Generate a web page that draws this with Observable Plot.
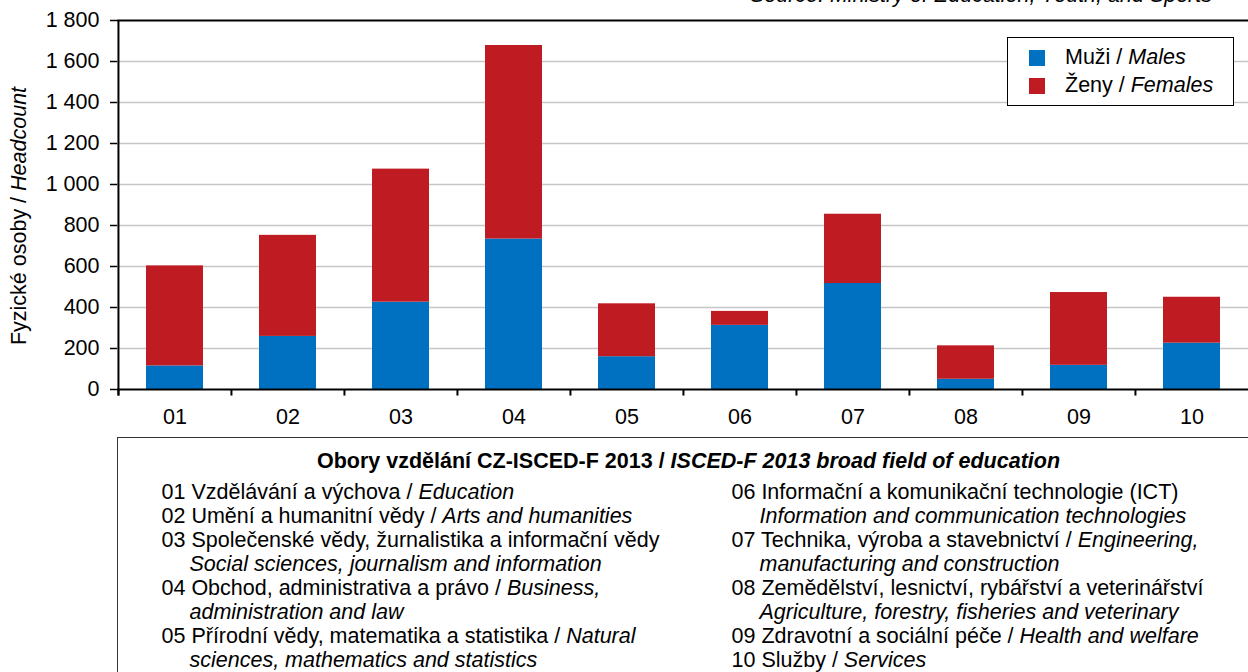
<!DOCTYPE html>
<html>
<head>
<meta charset="utf-8">
<script src="https://cdn.jsdelivr.net/npm/d3@7"></script>
<script src="https://cdn.jsdelivr.net/npm/@observablehq/plot@0.6"></script>
<style>
  html, body { margin: 0; padding: 0; background: #fff; }
  #root { position: relative; width: 1248px; height: 672px; overflow: hidden;
          font-family: "Liberation Sans", Arial, sans-serif; font-size: 21.5px; line-height: 24px; color: #000; background: #fff; }
  #root svg { position: absolute; left: 0; top: 0; }
  .abs { position: absolute; white-space: nowrap; }
  #source { right: 36px; top: -17px; font-style: italic; }
  #ylabel { left: 19px; top: 216px; transform: translate(-50%, -50%) rotate(-90deg); }
  #legend { left: 1007px; top: 37px; width: 227px; height: 69px; box-sizing: border-box; border: 1.5px solid #000; background: #fff; }
  .sw { position: absolute; width: 16px; height: 16px; left: 20.5px; }
  .lt { position: absolute; left: 57px; white-space: nowrap; }
  #fields { left: 117px; top: 437px; width: 1143px; height: 300px; box-sizing: border-box; border: 1.5px solid #333; background: #fff; }
  #ftitle { position: absolute; left: 0; right: 0; top: 10.5px; text-align: center; font-weight: bold; white-space: nowrap; }
  .col { position: absolute; top: 41.5px; }
  .col div { white-space: nowrap; }
  .col .ind { padding-left: 28px; font-style: italic; }
</style>
</head>
<body>
<div id="root"></div>
<script>
// ---- Data ----
const categories = ["01", "02", "03", "04", "05", "06", "07", "08", "09", "10"];
const males   = [115, 259, 426, 734, 160, 313, 517, 50, 118, 226];
const females = [488, 493, 649, 944, 258, 68, 338, 163, 355, 224];
const seriesKeys = ["Muži", "Ženy"];
const seriesLabelsCz = ["Muži", "Ženy"];
const seriesLabelsEn = ["Males", "Females"];
const seriesColors = ["#0070C0", "#BE1B22"];
const yTicks = [0, 200, 400, 600, 800, 1000, 1200, 1400, 1600, 1800];
const yLabelCz = "Fyzické osoby";
const yLabelEn = "Headcount";
const sourceText = "Source: Ministry of Education, Youth, and Sports";
const fieldsTitleCz = "Obory vzdělání CZ-ISCED-F 2013";
const fieldsTitleEn = "ISCED-F 2013 broad field of education";
// each entry: [first line czech part, first line english part (italic, may be ""), continuation line (italic, may be "")]
const fieldsLeft = [
  ["01 Vzdělávání a výchova / ", "Education", ""],
  ["02 Umění a humanitní vědy / ", "Arts and humanities", ""],
  ["03 Společenské vědy, žurnalistika a informační vědy", "", "Social sciences, journalism and information"],
  ["04 Obchod, administrativa a právo / ", "Business,", "administration and law"],
  ["05 Přírodní vědy, matematika a statistika / ", "Natural", "sciences, mathematics and statistics"]
];
const fieldsRight = [
  ["06 Informační a komunikační technologie (ICT)", "", "Information and communication technologies"],
  ["07 Technika, výroba a stavebnictví / ", "Engineering,", "manufacturing and construction"],
  ["08 Zemědělství, lesnictví, rybářství a veterinářství", "", "Agriculture, forestry, fisheries and veterinary"],
  ["09 Zdravotní a sociální péče / ", "Health and welfare", ""],
  ["10 Služby / ", "Services", ""]
];

// ---- Chart ----
const data = [];
categories.forEach((c, i) => {
  data.push({cat: c, sex: seriesKeys[0], value: males[i]});
  data.push({cat: c, sex: seriesKeys[1], value: females[i]});
});
const W = 1248, H = 430, mL = 117, mR = 0, mT = 20, mB = 41;
const step = (W - mL - mR) / categories.length;
const fmt = d => d3.format(",")(d).replace(/,/g, " ");
const font = '"Liberation Sans", Arial, sans-serif';

const chart = Plot.plot({
  width: W, height: H,
  marginLeft: mL, marginRight: mR, marginTop: mT, marginBottom: mB,
  style: {fontFamily: font, fontSize: "21.5px", color: "#000", background: "transparent", overflow: "visible"},
  x: {domain: categories, paddingInner: 0.5, paddingOuter: 0.25, label: null},
  y: {domain: [0, 1800], label: null},
  color: {domain: seriesKeys, range: seriesColors},
  marks: [
    Plot.ruleY(yTicks.filter(d => d > 0 && d < 1800), {stroke: "#c6c6c6", strokeWidth: 1.3}),
    Plot.barY(data, {x: "cat", y: "value", fill: "sex"}),
    Plot.ruleY([0], {stroke: "#000", strokeWidth: 2}),
    Plot.ruleY([1800], {stroke: "#000", strokeWidth: 2}),
    // category separator ticks below the x axis
    Plot.ruleX(categories, {x: d => d, dx: -step / 2, y1: -32, y2: 0, stroke: "#000", strokeWidth: 2}),
    // y axis line
    Plot.ruleX([categories[0]], {x: d => d, dx: -step / 2, y1: -32, y2: 1800, stroke: "#000", strokeWidth: 2}),
    Plot.axisY({ticks: yTicks, tickFormat: fmt, tickSize: 7, tickPadding: 11, strokeWidth: 1.5, label: null}),
    Plot.axisX({tickSize: 0, tickPadding: 19, label: null})
  ]
});

const root = document.getElementById("root");
root.appendChild(chart);

function el(tag, cls, parent, html) {
  const e = document.createElement(tag);
  if (cls) e.className = cls;
  if (html !== undefined) e.innerHTML = html;
  parent.appendChild(e);
  return e;
}

// source
const src = el("div", "abs", root, sourceText); src.id = "source";
// y label
const yl = el("div", "abs", root, `${yLabelCz} / <i>${yLabelEn}</i>`); yl.id = "ylabel";

// legend
const lg = el("div", "abs", root); lg.id = "legend";
const legTops = [7, 35];
const swTops = [11.5, 39.5];
seriesKeys.forEach((k, i) => {
  const s = el("div", "sw", lg); s.style.top = swTops[i] + "px"; s.style.background = seriesColors[i];
  const t = el("div", "lt", lg, `${seriesLabelsCz[i]} / <i>${seriesLabelsEn[i]}</i>`); t.style.top = legTops[i] + "px";
});

// fields box
const fb = el("div", "abs", root); fb.id = "fields";
el("div", null, fb, `${fieldsTitleCz} / <i>${fieldsTitleEn}</i>`).id = "ftitle";
function column(items, left) {
  const c = el("div", "col", fb); c.style.left = left + "px";
  items.forEach(([cz, en, cont]) => {
    el("div", null, c, cz + (en ? `<i>${en}</i>` : ""));
    if (cont) el("div", "ind", c, cont);
  });
}
column(fieldsLeft, 43.5);
column(fieldsRight, 613.5);
</script>
</body>
</html>
